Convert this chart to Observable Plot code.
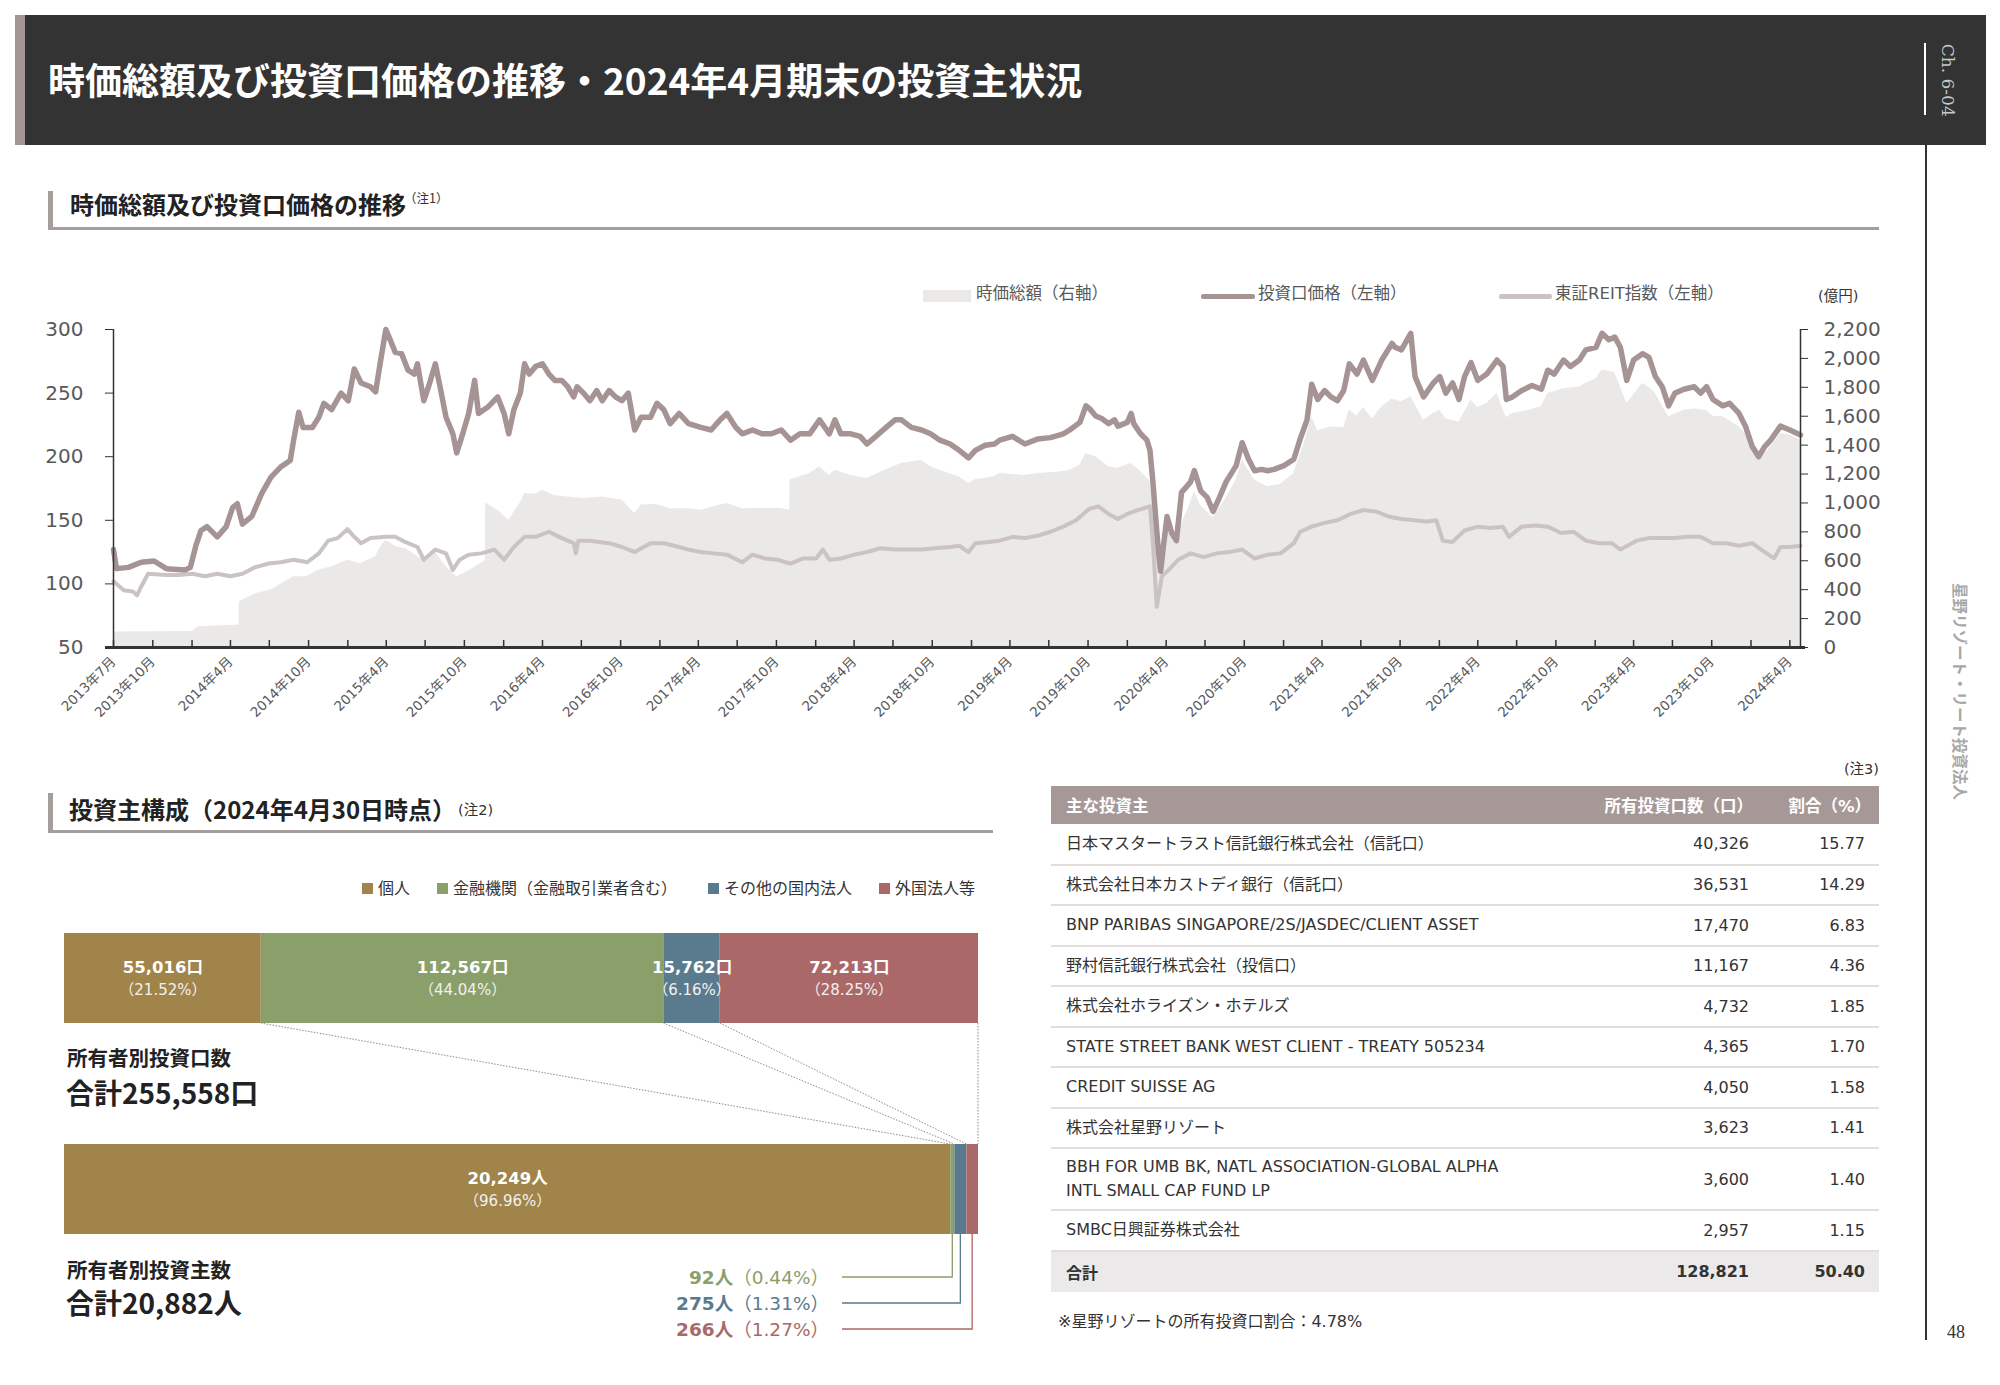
<!DOCTYPE html>
<html><head><meta charset="utf-8">
<script src="https://cdn.jsdelivr.net/npm/d3@7"></script>
<script src="https://cdn.jsdelivr.net/npm/@observablehq/plot@0.6"></script>
<style>
body{margin:0;background:#fff;}
#page{position:relative;width:2000px;height:1385px;overflow:hidden;font-family:"DejaVu Sans","Noto Sans CJK JP",sans-serif;color:#333;background:#fff;}
.abs{position:absolute;white-space:nowrap;}
.cjk{font-family:"Noto Sans CJK JP","Noto Sans",sans-serif;}
table{border-collapse:collapse;}
</style></head><body><div id="page"></div>
<script>
// ---------------- DATA ----------------
const priceSeries = [
["2013-07-01",127],["2013-07-08",112],["2013-08-05",113],["2013-09-04",117],["2013-10-04",118],["2013-11-02",112],["2013-12-16",111],["2013-12-28",113],["2014-01-10",130],["2014-01-22",142],["2014-02-05",145],["2014-03-01",137],["2014-03-22",145],["2014-04-06",160],["2014-04-17",163],["2014-04-29",147],["2014-05-21",153],["2014-06-13",171],["2014-07-05",184],["2014-07-28",192],["2014-08-19",197],["2014-08-27",213],["2014-09-08",235],["2014-09-18",223],["2014-10-10",223],["2014-10-25",231],["2014-11-06",242],["2014-11-24",237],["2014-12-16",250],["2015-01-02",244],["2015-01-16",269],["2015-02-01",258],["2015-02-23",255],["2015-03-07",251],["2015-03-19",276],["2015-03-31",300],["2015-04-10",292],["2015-04-22",282],["2015-05-07",281],["2015-05-22",268],["2015-06-06",265],["2015-06-13",273],["2015-06-28",244],["2015-07-09",255],["2015-07-25",273],["2015-08-05",255],["2015-08-19",231],["2015-09-04",218],["2015-09-13",203],["2015-09-27",218],["2015-10-11",234],["2015-10-25",260],["2015-11-03",234],["2015-11-25",239],["2015-12-18",247],["2016-01-02",234],["2016-01-13",218],["2016-01-25",237],["2016-02-09",250],["2016-02-19",273],["2016-03-01",265],["2016-03-16",271],["2016-04-01",273],["2016-04-16",265],["2016-04-30",260],["2016-05-16",260],["2016-05-30",255],["2016-06-13",247],["2016-06-21",255],["2016-07-06",250],["2016-07-21",244],["2016-08-06",252],["2016-08-19",244],["2016-09-04",252],["2016-09-19",247],["2016-10-04",244],["2016-10-19",250],["2016-11-03",221],["2016-11-18",231],["2016-12-10",231],["2016-12-25",242],["2017-01-10",237],["2017-01-25",226],["2017-02-15",234],["2017-03-09",226],["2017-04-07",223],["2017-05-01",221],["2017-05-22",229],["2017-06-07",234],["2017-06-28",223],["2017-07-13",218],["2017-08-06",221],["2017-08-28",218],["2017-09-19",218],["2017-10-12",221],["2017-11-03",213],["2017-11-25",218],["2017-12-18",218],["2018-01-10",229],["2018-02-02",218],["2018-02-15",229],["2018-03-01",218],["2018-03-24",218],["2018-04-15",216],["2018-05-01",210],["2018-05-22",216],["2018-06-15",223],["2018-07-06",229],["2018-07-21",229],["2018-08-13",223],["2018-09-06",221],["2018-09-27",218],["2018-10-19",213],["2018-11-12",210],["2018-12-03",205],["2018-12-25",199],["2019-01-10",205],["2019-02-02",209],["2019-02-24",210],
["2019-03-08",213],["2019-04-07",216],["2019-05-06",210],["2019-06-06",214],["2019-07-05",215],["2019-08-04",218],["2019-08-19",221],["2019-09-12",227],["2019-09-26",240],["2019-10-04",238],["2019-10-19",232],["2019-11-02",230],["2019-11-18",226],["2019-12-02",229],["2019-12-10",224],["2020-01-01",227],["2020-01-10",234],["2020-01-16",226],["2020-02-01",218],["2020-02-16",213],["2020-02-23",205],["2020-03-01",180],["2020-03-08",150],["2020-03-14",125],["2020-03-19",110],["2020-03-25",128],["2020-04-03",153],["2020-04-14",140],["2020-04-25",134],["2020-05-07",172],["2020-05-28",180],["2020-06-06",189],["2020-06-21",173],["2020-07-06",168],["2020-07-20",157],["2020-08-04",168],["2020-08-19",180],["2020-09-12",193],["2020-09-26",211],["2020-10-11",198],["2020-10-25",189],["2020-11-10",190],["2020-11-25",189],["2020-12-10",190],["2021-01-02",193],["2021-01-25",198],["2021-02-09",214],["2021-02-25",229],["2021-03-08",257],["2021-03-22",245],["2021-04-07",252],["2021-04-22",247],["2021-05-07",244],["2021-05-22",252],["2021-06-04",273],["2021-06-22",265],["2021-07-07",276],["2021-07-28",260],["2021-08-19",276],["2021-09-12",289],["2021-09-19",286],["2021-10-04",284],["2021-10-26",297],["2021-11-05",263],["2021-11-25",247],["2021-12-18",258],["2022-01-02",263],["2022-01-16",250],["2022-02-01",258],["2022-02-16",245],["2022-03-01",263],["2022-03-16",274],["2022-04-01",260],["2022-04-22",265],["2022-05-16",276],["2022-05-30",271],["2022-06-07",245],["2022-06-21",247],["2022-07-13",252],["2022-08-06",256],["2022-08-28",253],["2022-09-12",268],["2022-09-27",265],["2022-10-19",276],["2022-11-04",271],["2022-11-25",276],["2022-12-10",284],["2023-01-03",286],["2023-01-17",297],["2023-02-02",292],["2023-02-16",294],["2023-03-01",286],["2023-03-16",260],["2023-04-01",276],["2023-04-22",281],["2023-05-07",278],["2023-05-22",263],["2023-06-07",255],["2023-06-22",240],["2023-07-07",250],["2023-07-28",253],["2023-08-21",255],["2023-09-05",250],["2023-09-19",255],["2023-10-04",245],["2023-10-27",240],["2023-11-12",242],["2023-12-04",234],["2023-12-19",224],["2024-01-04",208],["2024-01-19",200],["2024-02-02",208],["2024-02-16",213],["2024-03-10",224],["2024-04-01",221],["2024-04-26",217]
];
const reitSeries = [
["2013-07-01",102],["2013-07-25",95],["2013-08-15",94],["2013-08-25",91],["2013-09-04",98],["2013-09-20",108],["2013-11-02",107],["2013-12-01",107],["2014-01-01",108],["2014-02-01",106],["2014-03-01",108],["2014-04-01",106],["2014-04-29",108],["2014-05-28",113],["2014-06-30",116],["2014-07-28",117],["2014-08-27",119],["2014-09-28",117],["2014-10-25",124],["2014-11-16",134],["2014-12-08",136],["2014-12-31",143],["2015-01-16",137],["2015-02-01",132],["2015-02-23",136],["2015-03-31",137],["2015-04-22",137],["2015-05-15",133],["2015-06-13",129],["2015-06-28",119],["2015-07-25",127],["2015-08-19",124],["2015-09-04",111],["2015-09-20",119],["2015-10-11",123],["2015-11-10",124],["2015-12-10",127],["2016-01-02",119],["2016-01-25",129],["2016-02-19",137],["2016-03-16",137],["2016-04-16",141],["2016-05-16",136],["2016-06-13",132],["2016-06-18",124],["2016-06-24",134],["2016-07-21",134],["2016-09-04",132],["2016-10-04",129],["2016-11-03",125],["2016-12-10",132],["2017-01-10",132],["2017-02-15",129],["2017-03-09",127],["2017-04-07",125],["2017-05-07",124],["2017-06-07",123],["2017-07-13",117],["2017-08-06",123],["2017-09-04",120],["2017-10-04",119],["2017-11-03",116],["2017-12-03",120],["2018-01-02",120],["2018-01-18",127],["2018-02-02",119],["2018-03-01",120],["2018-04-01",123],["2018-05-01",125],["2018-06-01",128],["2018-07-06",127],["2018-08-06",127],["2018-09-06",127],["2018-10-06",128],["2018-11-12",129],["2018-12-03",130],["2018-12-25",125],["2019-01-10",132],["2019-02-10",133],
["2019-03-08",134],["2019-04-07",137],["2019-05-06",136],["2019-06-06",138],["2019-07-05",141],["2019-08-04",145],["2019-09-03",150],["2019-10-04",159],["2019-10-25",161],["2019-11-18",155],["2019-12-10",151],["2020-01-01",155],["2020-01-25",158],["2020-02-23",161],["2020-03-01",132],["2020-03-10",82],["2020-03-22",106],["2020-04-07",111],["2020-04-29",119],["2020-05-28",124],["2020-06-28",121],["2020-07-28",124],["2020-08-27",125],["2020-09-26",127],["2020-10-25",120],["2020-11-25",123],["2020-12-25",124],["2021-01-25",132],["2021-02-09",141],["2021-03-08",145],["2021-04-07",148],["2021-05-07",150],["2021-06-07",155],["2021-07-07",158],["2021-08-05",157],["2021-09-04",153],["2021-10-04",151],["2021-11-03",150],["2021-12-03",149],["2021-12-25",150],["2022-01-09",134],["2022-02-01",133],["2022-03-01",142],["2022-04-01",145],["2022-05-01",144],["2022-05-30",145],["2022-06-13",137],["2022-07-13",145],["2022-08-13",146],["2022-09-12",145],["2022-10-13",140],["2022-11-11",141],["2022-12-10",134],["2023-01-10",132],["2023-02-09",132],["2023-03-01",127],["2023-04-08",134],["2023-05-07",136],["2023-06-07",136],["2023-07-07",136],["2023-08-06",137],["2023-09-05",137],["2023-10-04",132],["2023-11-04",132],["2023-12-04",130],["2024-01-04",132],["2024-01-25",127],["2024-02-24",120],["2024-03-10",129],["2024-04-01",129],["2024-04-26",130]
];
const capSeries = [
["2013-07-01",108],["2013-12-31",110],["2014-01-16",143],["2014-04-21",155],["2014-04-22",316],["2014-06-01",374],["2014-07-05",397],["2014-08-27",489],["2014-09-25",489],["2014-10-25",535],["2014-11-24",558],["2014-12-31",604],["2015-01-31",581],["2015-03-07",627],["2015-03-19",696],["2015-03-31",742],["2015-04-22",700],["2015-05-20",680],["2015-06-28",600],["2015-07-25",660],["2015-08-19",560],["2015-09-13",489],["2015-10-11",530],["2015-11-19",600],["2015-11-20",1000],["2015-12-18",950],["2016-01-13",880],["2016-02-09",1000],["2016-02-19",1065],["2016-03-16",1060],["2016-04-01",1088],["2016-04-30",1050],["2016-05-30",1042],["2016-07-06",1030],["2016-08-19",1042],["2016-10-04",1020],["2016-11-03",927],["2016-11-18",985],["2016-12-25",990],["2017-01-25",960],["2017-03-09",960],["2017-04-07",950],["2017-05-22",985],["2017-06-07",996],["2017-07-13",960],["2017-08-28",962],["2017-10-12",962],["2017-11-01",950],["2017-11-02",1158],["2017-12-18",1204],["2018-01-10",1250],["2018-02-02",1190],["2018-02-15",1227],["2018-03-24",1190],["2018-05-01",1169],["2018-06-15",1230],["2018-07-21",1273],["2018-09-06",1296],["2018-09-27",1250],["2018-10-19",1227],["2018-11-12",1200],["2018-12-03",1181],["2018-12-25",1135],["2019-01-10",1160],["2019-02-24",1181],
["2019-03-08",1204],["2019-05-06",1190],["2019-06-06",1204],["2019-07-28",1215],["2019-08-19",1227],["2019-09-12",1260],["2019-09-26",1342],["2019-10-19",1320],["2019-11-18",1250],["2019-12-10",1240],["2020-01-10",1273],["2020-02-01",1220],["2020-02-23",1150],["2020-03-01",1010],["2020-03-10",820],["2020-03-19",600],["2020-04-03",880],["2020-04-25",770],["2020-05-28",1000],["2020-06-06",1080],["2020-06-21",980],["2020-07-20",900],["2020-08-19",1030],["2020-09-12",1160],["2020-09-26",1296],["2020-10-25",1158],["2020-11-25",1112],["2020-12-25",1130],["2021-01-25",1204],["2021-02-16",1388],["2021-03-08",1596],["2021-03-22",1500],["2021-04-22",1527],["2021-05-22",1520],["2021-06-04",1642],["2021-06-22",1600],["2021-07-07",1660],["2021-07-28",1580],["2021-08-19",1665],["2021-09-12",1720],["2021-10-04",1700],["2021-10-26",1734],["2021-11-25",1573],["2021-12-18",1620],["2022-01-02",1642],["2022-01-16",1580],["2022-02-16",1560],["2022-03-16",1711],["2022-04-01",1660],["2022-04-22",1688],["2022-05-16",1757],["2022-06-07",1590],["2022-06-21",1619],["2022-07-28",1640],["2022-08-28",1665],["2022-09-12",1757],["2022-10-19",1790],["2022-11-25",1803],["2022-12-10",1826],["2023-01-03",1860],["2023-01-17",1919],["2023-02-16",1900],["2023-03-01",1803],["2023-03-16",1688],["2023-04-22",1826],["2023-05-07",1800],["2023-05-22",1757],["2023-06-22",1596],["2023-07-28",1642],["2023-08-21",1650],["2023-09-19",1640],["2023-10-04",1600],["2023-10-27",1596],["2023-12-04",1527],["2023-12-19",1480],["2024-01-04",1380],["2024-01-19",1296],["2024-02-16",1388],["2024-03-10",1480],["2024-04-01",1470],["2024-04-26",1434]
];
const leftTicks = [50,100,150,200,250,300];
const rightTicks = [0,200,400,600,800,1000,1200,1400,1600,1800,2000,2200];
const xLabelMonths = ["2013-07","2013-10","2014-04","2014-10","2015-04","2015-10","2016-04","2016-10","2017-04","2017-10","2018-04","2018-10","2019-04","2019-10","2020-04","2020-10","2021-04","2021-10","2022-04","2022-10","2023-04","2023-10","2024-04"];
const legendItems = ["時価総額（右軸）","投資口価格（左軸）","東証REIT指数（左軸）"];

const ownerCats = ["個人","金融機関（金融取引業者含む）","その他の国内法人","外国法人等"];
const unitCounts = [55016,112567,15762,72213];
const unitPcts = ["21.52%","44.04%","6.16%","28.25%"];
const holderCounts = [20249,92,275,266];
const holderPcts = ["96.96%","0.44%","1.31%","1.27%"];

const topNames = ["日本マスタートラスト信託銀行株式会社（信託口）","株式会社日本カストディ銀行（信託口）","BNP PARIBAS SINGAPORE/2S/JASDEC/CLIENT ASSET","野村信託銀行株式会社（投信口）","株式会社ホライズン・ホテルズ","STATE STREET BANK WEST CLIENT - TREATY 505234","CREDIT SUISSE AG","株式会社星野リゾート","BBH FOR UMB BK, NATL ASSOCIATION-GLOBAL ALPHA\nINTL SMALL CAP FUND LP","SMBC日興証券株式会社"];
const topUnits = ["40,326","36,531","17,470","11,167","4,732","4,365","4,050","3,623","3,600","2,957"];
const topRatios = ["15.77","14.29","6.83","4.36","1.85","1.70","1.58","1.41","1.40","1.15"];
const topTotal = ["128,821","50.40"];

// ---------------- STYLE ----------------
const FONT = "'DejaVu Sans','Noto Sans CJK JP',sans-serif";
const C = {price:"#a69494", reit:"#cbc3c3", area:"#ebe8e8", axis:"#333333", tick:"#595959",
  owner:["#a08449","#8a9f6a","#5a7b8e","#ab6868"], head:"#a79898", sect:"#a59c9c"};
const page = document.getElementById("page");
function box(x,y,w,h,bg,extra=""){const d=document.createElement("div");d.className="abs";d.style.cssText=`left:${x}px;top:${y}px;width:${w}px;height:${h}px;background:${bg};${extra}`;page.appendChild(d);return d;}
function txt(s,x,cy,size,extra="",align="left",cls=""){const d=document.createElement("div");d.className="abs "+cls;const h=size*1.5;
  d.style.cssText=`top:${cy-h/2}px;height:${h}px;line-height:${h}px;font-size:${size}px;`+(align==="right"?`right:${2000-x}px;text-align:right;`:`left:${x}px;`)+extra;
  d.innerHTML=s;page.appendChild(d);return d;}

// header
box(15,15,1971,130,"#333333");
box(15,15,10,130,"#a39694");
txt("時価総額及び投資口価格の推移・2024年4月期末の投資主状況",48,80,37,"color:#fff;font-weight:bold;","left","cjk");
box(1924,43,2,72,"#ffffff");
box(1925,145,1.5,1195,"#333333");
const ch = txt("Ch. 6-04",1947,79,17,"color:#c8c8c8;font-family:'DejaVu Serif','Liberation Serif',serif;");
ch.style.left="1912px";ch.style.width="70px";ch.style.textAlign="center";ch.style.transform="rotate(90deg)";
const side = txt("星野リゾート・リート投資法人",1960,692,15.5,"color:#a8a8a8;font-weight:bold;","left","cjk");
side.style.left=(1960-120)+"px";side.style.width="240px";side.style.textAlign="center";side.style.transform="rotate(90deg)";
const pg = txt("48",1957,1332,18,"font-family:'Liberation Serif','DejaVu Serif',serif;color:#333;");
pg.style.left="1947px";

// section 1 heading
box(48,191,5,37,C.sect);
box(48,227,1831,3,C.sect);
txt("時価総額及び投資口価格の推移",70,204,24,"font-weight:bold;color:#222;","left","cjk");
txt("（注1）",404,198,12.5,"color:#333;","left","cjk");

// chart 1 legend
box(923,290,48,12,C.area);
txt(legendItems[0],976,294,16.5,`color:${C.tick};`);
box(1201,293.5,54,5,C.price,"border-radius:2px;");
txt(legendItems[1],1258,294,16.5,`color:${C.tick};`);
box(1499,293.5,53,5,C.reit,"border-radius:2px;");
txt(legendItems[2],1555,294,16.5,`color:${C.tick};`);
txt("(億円)",1818,297,14.5,"color:#333;");

// ---------------- CHART 1 ----------------
const parse = d3.utcParse("%Y-%m-%d");
const toRows = s => s.map(([d,v]) => ({date: parse(d), v}));
const price = toRows(priceSeries), reit = toRows(reitSeries), cap = toRows(capSeries);
const capMax = rightTicks[rightTicks.length-1];
const yLo = leftTicks[0], yHi = leftTicks[leftTicks.length-1];
const toLeft = c => yLo + c*(yHi-yLo)/capMax;
const fromLeft = y => (y-yLo)*capMax/(yHi-yLo);
const xDomain = [parse("2013-07-01"), price[price.length-1].date];
const quarterTicks = d3.utcMonth.every(3).range(xDomain[0], d3.utcDay.offset(xDomain[1],1));
const labelTicks = xLabelMonths.map(m => parse(m+"-01"));
const tickLen = 7*(yHi-yLo)/318;

const chart = Plot.plot({
  width:1900, height:490, marginLeft:113, marginRight:100, marginTop:89, marginBottom:83,
  style:{fontFamily:FONT, background:"transparent", overflow:"visible"},
  x:{type:"utc", domain:xDomain},
  y:{domain:[yLo, yHi]},
  marks:[
    Plot.areaY(cap,{x:"date", y1:yLo, y2:d=>toLeft(d.v), fill:C.area}),
    Plot.lineY(reit,{x:"date", y:"v", stroke:C.reit, strokeWidth:4, strokeLinejoin:"round"}),
    Plot.lineY(price,{x:"date", y:"v", stroke:C.price, strokeWidth:5.5, strokeLinejoin:"round"}),
    Plot.ruleX([xDomain[0]],{stroke:C.axis, strokeWidth:1.5}),
    Plot.ruleX([xDomain[1]],{stroke:C.axis, strokeWidth:1.5}),
    Plot.axisY(leftTicks,{anchor:"left", tickSize:8, tickPadding:22, fontSize:20, fill:C.tick, stroke:C.axis, label:null}),
    Plot.axisY(rightTicks.map(toLeft),{anchor:"right", tickSize:7, tickPadding:16, fontSize:20, fill:C.tick, stroke:C.axis, label:null,
      tickFormat:d=>d3.format(",")(Math.round(fromLeft(d)))}),
    Plot.ruleX(quarterTicks,{y1:yLo, y2:yLo+tickLen, stroke:C.axis, strokeWidth:1.5}),
    Plot.axisX(labelTicks,{tickSize:0, tickRotate:-45, tickPadding:12, fontSize:13.5, fill:C.tick, label:null,
      tickFormat:d=>`${d.getUTCFullYear()}年${d.getUTCMonth()+1}月`}),
    Plot.ruleY([yLo],{stroke:C.axis, strokeWidth:3, insetLeft:-8, insetRight:-5})
  ]
});
chart.style.position="absolute"; chart.style.left="0px"; chart.style.top="240px";
page.appendChild(chart);

// section 2 heading
box(48,793,5,38,C.sect);
box(48,830,945,3,C.sect);
txt("投資主構成（2024年4月30日時点）",69,809,24,"font-weight:bold;color:#222;","left","cjk");
txt("(注2)",458,811,14.5,"color:#333;");

// bar legend
const legX = [362,437,708,879];
ownerCats.forEach((c,i)=>{box(legX[i],883,11,11,C.owner[i]);txt(c,legX[i]+16,887,16,"color:#333;","left","cjk");});

// ---------------- BARS ----------------
const fmt = d3.format(",");
const barRows = [
  ...ownerCats.map((c,i)=>({row:"口数",cat:c,n:unitCounts[i],main:`${fmt(unitCounts[i])}口`,sub:`（${unitPcts[i]}）`})),
  ...ownerCats.map((c,i)=>({row:"投資主数",cat:c,n:holderCounts[i],main:i===0?`${fmt(holderCounts[i])}人`:"",sub:i===0?`（${holderPcts[i]}）`:""}))
];
const bars = Plot.plot({
  width:1000, height:460, marginLeft:64, marginRight:22, marginTop:33, marginBottom:126,
  style:{fontFamily:FONT, background:"transparent", overflow:"visible"},
  x:{domain:[0,1], axis:null},
  y:{type:"band", domain:["口数","投資主数"], paddingInner:0.5735, paddingOuter:0, axis:null},
  color:{domain:ownerCats, range:C.owner},
  marks:[
    Plot.barX(barRows, Plot.stackX({x:"n", y:"row", fill:"cat", offset:"normalize"})),
    Plot.text(barRows, Plot.stackX({x:"n", y:"row", offset:"normalize", text:"main", dy:-11, fill:"#ffffff", fontWeight:"bold", fontSize:16.5})),
    Plot.text(barRows, Plot.stackX({x:"n", y:"row", offset:"normalize", text:"sub", dy:12, fill:"#f1f1f1", fontSize:15}))
  ]
});
bars.style.position="absolute"; bars.style.left="0px"; bars.style.top="900px";
page.appendChild(bars);
{
  const sx = bars.scale("x"), sy = bars.scale("y");
  const bw = sy.bandwidth;
  const y1b = sy.apply("口数") + bw, y2t = sy.apply("投資主数"), y2b = y2t + bw;
  const t1 = d3.sum(unitCounts), t2 = d3.sum(holderCounts);
  const c1 = Array.from(d3.cumsum(unitCounts), v=>v/t1), c2 = Array.from(d3.cumsum(holderCounts), v=>v/t2);
  const g = d3.select(bars).append("g");
  c1.forEach((v,i)=>{
    g.append("line").attr("x1",sx.apply(v)).attr("y1",y1b).attr("x2",sx.apply(c2[i])).attr("y2",y2t)
      .attr("stroke","#8c8c8c").attr("stroke-width",1).attr("stroke-dasharray","1.5,1.5");
  });
  const textRight = 829, lineStart = 842;
  [1,2,3].forEach((i,k)=>{
    const xm = sx.apply((c2[i-1]+c2[i])/2);
    const yy = y2b + 43 + k*26;
    g.append("path").attr("d",`M${lineStart},${yy}H${xm}V${y2b}`).attr("fill","none").attr("stroke",C.owner[i]).attr("stroke-width",1.3);
    const t = g.append("text").attr("x",textRight).attr("y",yy).attr("text-anchor","end").attr("dominant-baseline","central")
      .attr("fill",C.owner[i]).attr("font-size",18.5);
    t.append("tspan").attr("font-weight","bold").text(`${holderCounts[i]}人`);
    t.append("tspan").text(`（${holderPcts[i]}）`);
  });
}
txt("所有者別投資口数",67,1057,20.5,"font-weight:bold;color:#222;","left","cjk");
txt("合計255,558口",66,1092,28,"font-weight:bold;color:#222;","left","cjk");
txt("所有者別投資主数",67,1269,20.5,"font-weight:bold;color:#222;","left","cjk");
txt("合計20,882人",66,1302,28,"font-weight:bold;color:#222;","left","cjk");

// ---------------- TABLE ----------------
txt("(注3)",1879,770,14.5,"color:#333;","right");
const tbl = document.createElement("div");
tbl.className="abs"; tbl.style.cssText="left:1051px;top:786px;width:828px;font-size:16px;color:#333;";
let html = `<table style="width:828px;table-layout:fixed;"><colgroup><col style="width:545px"><col style="width:168px"><col style="width:115px"></colgroup>`;
html += `<tr style="height:38px;background:${C.head};color:#fff;font-weight:bold;font-size:16.5px;"><td class="cjk" style="padding:0 0 0 15px">主な投資主</td><td class="cjk" style="text-align:right;padding:0 11px 0 0;white-space:nowrap">所有投資口数（口）</td><td style="text-align:right;padding:0 8px 0 0;white-space:nowrap">割合（%）</td></tr>`;
topNames.forEach((n,i)=>{
  const two = n.includes("\n");
  html += `<tr style="height:${two?62:40.5}px;border-bottom:2px solid #e2dede;"><td style="padding:0 0 0 15px;line-height:24px;white-space:nowrap">${n.replace("\n","<br>")}</td><td style="text-align:right;padding:0 15px 0 0">${topUnits[i]}</td><td style="text-align:right;padding:0 14px 0 0">${topRatios[i]}</td></tr>`;
});
html += `<tr style="height:41px;background:#ebe9e9;font-weight:bold;"><td class="cjk" style="padding:0 0 0 15px">合計</td><td style="text-align:right;padding:0 15px 0 0">${topTotal[0]}</td><td style="text-align:right;padding:0 14px 0 0">${topTotal[1]}</td></tr></table>`;
tbl.innerHTML = html; page.appendChild(tbl);
txt("※星野リゾートの所有投資口割合：4.78%",1058,1322,16,"color:#333;");
</script></body></html>
